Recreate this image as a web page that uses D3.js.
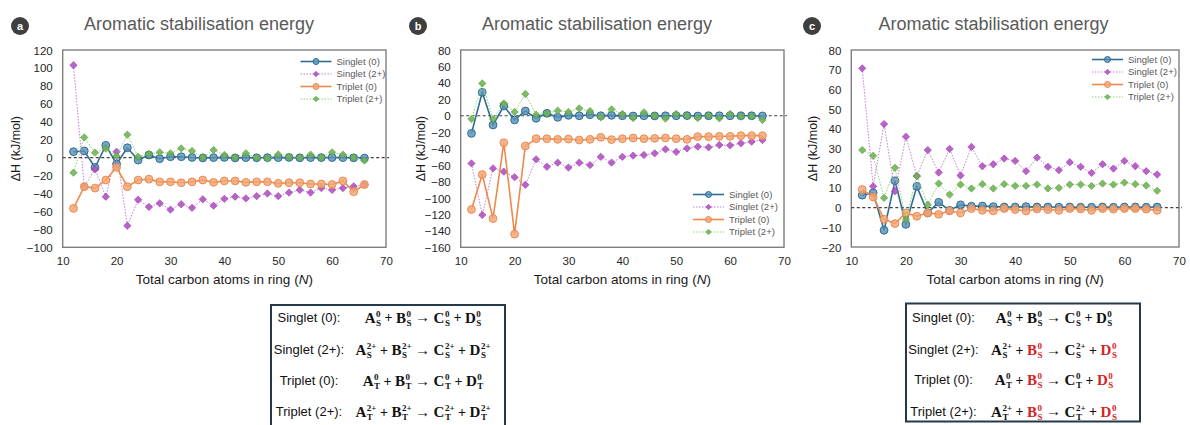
<!DOCTYPE html>
<html><head><meta charset="utf-8">
<script src="https://cdn.jsdelivr.net/npm/d3@7/dist/d3.min.js"></script>
<style>body{margin:0;background:#fff}svg{display:block}</style>
</head><body><svg id="c" width="1190" height="425"></svg>
<script>
const N = [12,14,16,18,20,22,24,26,28,30,32,34,36,38,40,42,44,46,48,50,52,54,56,58,60,62,64,66];
const xTicks = [10,20,30,40,50,60,70];
const seriesNames = ["Singlet (0)","Singlet (2+)","Triplet (0)","Triplet (2+)"];

const aS0 = [6.6,7.4,-11,13.7,-7,11,-2.7,2.9,-1.2,1,1,0.2,-0.3,0,0.2,-0.3,0,-0.2,0,0,0.2,-0.2,0,0,0.1,0,-0.2,-0.5];
const aS2 = [103,-32.3,-13,-43.6,6.6,-76,-47,-55,-51,-58,-52,-56,-46.5,-53.6,-46,-43.6,-45.5,-43,-40,-43,-39,-36,-39,-34,-36,-34,-32,-30];
const aT0 = [-56.6,-32.4,-34,-25,-10.8,-32.4,-25,-24,-27,-27,-28,-27,-25,-27.6,-26,-26,-27.6,-27,-27,-28.7,-28,-28,-29.4,-29.4,-30,-26,-38,-30];
const aT2 = [-16.8,22.5,5.5,10,1.8,25.6,1,4,5.9,4.8,10.3,7.4,0.3,8.5,2.9,0.3,4.8,0,-1,3.6,1,0,3.3,0.3,5.9,3.3,0.3,-3.4];

const bS0 = [-21.4,28.5,-11.2,11.9,-5.1,5.8,-3.1,3,-1.9,0.5,0,1.3,0,0.5,0,-0.3,0,-0.2,0,0,0.2,-0.3,0,0,0,0,0,-0.2];
const bS2 = [-58,-120.7,-64,-68,-74.7,-84,-53,-62,-57,-63,-57,-60,-50,-57,-50,-48.5,-47.7,-45.7,-40.8,-44,-39.6,-37.6,-38.4,-35.6,-36,-33.5,-31.5,-29.5];
const bT0 = [-114,-71.5,-125,-32.8,-144,-36.8,-27.9,-27.9,-28.7,-28.3,-29.5,-28.7,-26.2,-29,-27.9,-27,-27.9,-27.5,-27,-27.9,-28.7,-25.4,-25.4,-25,-25,-24.2,-24.2,-24.2];
const bT2 = [-4,39.4,-4,15,4.6,26.5,1.3,3,6.2,4.6,9,5.8,-1.9,7.8,2.1,-2.7,4.2,0,-3.5,2.1,0,-2.7,0.5,-3.1,2.1,-1.1,-0.7,-5.1];

const cS0 = [6.3,7.5,-11.5,13.6,-8.5,10.8,-2.7,2.7,-1.4,1.4,0.7,0.8,0.5,0.3,0.3,0.5,0.3,0.3,0.2,0.3,0.2,0.2,0.3,0.2,0.3,0.3,0.2,0.3];
const cS2 = [70.7,10.8,42.4,8.3,36,16,29.2,17.8,29.8,16.3,30.8,21,22,24.9,23.7,18.5,25.4,20.7,19,23,20.7,17.6,22,19.8,23.7,21,18.5,16.8];
const cT0 = [9.2,5.4,-5.9,-8.1,-2.7,-4.4,-2.7,-3.4,-1.7,-2.7,-0.5,-1.4,-1.7,-0.5,-1,-1.7,-0.7,-1,-1.4,-0.5,-0.7,-1.4,-0.5,-0.8,-0.5,-0.5,-0.8,-1.4];
const cT2 = [29.2,26.3,4.9,20.2,-6.1,16,1.5,12.2,6.6,11.7,9.7,11.9,9.7,11.9,11,11,11.7,9.7,10,11.7,11.7,11,12.2,11.7,12.7,11.9,11.2,8.5];

const aYTicks = [-100,-80,-60,-40,-20,0,20,40,60,80,100,120];
const bYTicks = [-160,-140,-120,-100,-80,-60,-40,-20,0,20,40,60,80];
const cYTicks = [-20,-10,0,10,20,30,40,50,60,70,80];

const styles = [
  {line:"#2f6c8f", w:1.6, dash:null, shape:"circle", fill:"#5a93b9", stroke:"#2f6c8f"},
  {line:"#c37dd1", w:1, dash:"1.5,1.5", shape:"diamond", fill:"#b04fc2", stroke:"#9b3cad"},
  {line:"#ec8a4e", w:1.6, dash:null, shape:"circle", fill:"#f3a675", stroke:"#ec8a4e"},
  {line:"#8fd07a", w:1, dash:"1.5,1.5", shape:"diamond", fill:"#6eb352", stroke:"#5a9c40"}
];

const svg = d3.select("#c");
svg.append("rect").attr("width",1190).attr("height",425).attr("fill","#fff");

const panels = [
  {id:"a", data:[aS0,aS2,aT0,aT2], yTicks:aYTicks, x0:62.7, x1:386, y0:50, y1:247.3, title:199, badge:20, ylab:16, legend:{x:300.5, y:61.5}},
  {id:"b", data:[bS0,bS2,bT0,bT2], yTicks:bYTicks, x0:460.7, x1:784, y0:50, y1:247.3, title:597, badge:418, ylab:421, legend:{x:693, y:194.5}},
  {id:"c", data:[cS0,cS2,cT0,cT2], yTicks:cYTicks, x0:851.3, x1:1179, y0:50, y1:247, title:993.5, badge:812, ylab:813, legend:{x:1092, y:59.5}}
];

function marker(g, shape, x, y, r, s){
  if(shape==="circle"){
    g.append("circle").attr("cx",x).attr("cy",y).attr("r",r)
      .attr("fill",s.fill).attr("fill-opacity",0.82).attr("stroke",s.stroke).attr("stroke-width",1);
  } else {
    const d = r*1.05;
    g.append("path").attr("d",`M${x},${y-d}L${x+d},${y}L${x},${y+d}L${x-d},${y}Z`)
      .attr("fill",s.fill).attr("fill-opacity",0.88).attr("stroke",s.stroke).attr("stroke-width",0.6);
  }
}

panels.forEach(p=>{
  const g = svg.append("g");
  const x = d3.scaleLinear().domain([10,70]).range([p.x0,p.x1]);
  const yd = d3.extent(p.yTicks);
  const y = d3.scaleLinear().domain(yd).range([p.y1,p.y0]);

  g.append("circle").attr("cx",p.badge).attr("cy",26).attr("r",9).attr("fill","#3f3f3f");
  g.append("text").attr("x",p.badge).attr("y",30).attr("text-anchor","middle")
    .attr("font-family","Liberation Sans, Arial, sans-serif").attr("font-size",11).attr("font-weight","bold")
    .attr("fill","#fff").text(p.id);
  g.append("text").attr("x",p.title).attr("y",30).attr("text-anchor","middle")
    .attr("font-family","Liberation Sans, Arial, sans-serif").attr("font-size",18).attr("fill","#595959")
    .text("Aromatic stabilisation energy");

  const yAxis = d3.axisLeft(y).tickValues(p.yTicks).tickSize(0).tickPadding(10).tickFormat(d3.format("d"));
  const ya = g.append("g").attr("transform",`translate(${p.x0},0)`).call(yAxis);
  ya.select(".domain").remove();
  ya.selectAll("text").attr("font-family","Liberation Sans, Arial, sans-serif").attr("font-size",11.5).attr("fill","#262626").attr("dy","0.35em");

  const xAxis = d3.axisBottom(x).tickValues(xTicks).tickSize(0).tickPadding(10).tickFormat(d3.format("d"));
  const xa = g.append("g").attr("transform",`translate(0,${p.y1})`).call(xAxis);
  xa.select(".domain").remove();
  xa.selectAll("text").attr("font-family","Liberation Sans, Arial, sans-serif").attr("font-size",11.5).attr("fill","#262626");

  g.append("rect").attr("x",p.x0).attr("y",p.y0).attr("width",p.x1-p.x0).attr("height",p.y1-p.y0)
    .attr("fill","none").attr("stroke","#7f7f7f").attr("stroke-width",1.4);

  const xt = g.append("text").attr("x",(p.x0+p.x1)/2).attr("y",283.5).attr("text-anchor","middle")
    .attr("font-family","Liberation Sans, Arial, sans-serif").attr("font-size",13.5).attr("fill","#1a1a1a");
  xt.append("tspan").text("Total carbon atoms in ring (");
  xt.append("tspan").attr("font-style","italic").text("N");
  xt.append("tspan").text(")");
  g.append("text").attr("transform",`translate(${p.ylab},${(p.y0+p.y1)/2}) rotate(-90)`).attr("text-anchor","middle")
    .attr("dy","0.35em").attr("font-family","Liberation Sans, Arial, sans-serif").attr("font-size",12.5).attr("fill","#1a1a1a")
    .text("ΔH (kJ/mol)");

  g.append("line").attr("x1",p.x0).attr("x2",p.x1+3).attr("y1",y(0)).attr("y2",y(0))
    .attr("stroke","#404040").attr("stroke-width",1.2).attr("stroke-dasharray","3,2.5");

  const line = d3.line().x((d,i)=>x(N[i])).y(d=>y(d));
  p.data.forEach((vals,si)=>{
    const s = styles[si];
    const sg = g.append("g");
    sg.append("path").attr("d",line(vals)).attr("fill","none").attr("stroke",s.line)
      .attr("stroke-width",s.w).attr("stroke-dasharray",s.dash);
    vals.forEach((v,i)=> marker(sg, s.shape, x(N[i]), y(v), s.shape==="circle"?3.9:3.5, s));
  });

  const L = p.legend;
  seriesNames.forEach((nm,i)=>{
    const s = styles[i];
    const yy = L.y + i*12.5;
    const lg = g.append("g");
    lg.append("line").attr("x1",L.x).attr("x2",L.x+31).attr("y1",yy).attr("y2",yy)
      .attr("stroke",s.line).attr("stroke-width",s.w).attr("stroke-dasharray",s.dash);
    marker(lg, s.shape, L.x+15.5, yy, s.shape==="circle"?3:2.6, s);
    lg.append("text").attr("x",L.x+36).attr("y",yy).attr("dy","0.35em")
      .attr("font-family","Liberation Sans, Arial, sans-serif").attr("font-size",9.5).attr("fill","#595959").text(nm);
  });
});

const rowLabels = ["Singlet (0):","Singlet (2+):","Triplet (0):","Triplet (2+):"];
const eqLeft = [
  [["A","0","S"],["B","0","S"],["C","0","S"],["D","0","S"]],
  [["A","2+","S"],["B","2+","S"],["C","2+","S"],["D","2+","S"]],
  [["A","0","T"],["B","0","T"],["C","0","T"],["D","0","T"]],
  [["A","2+","T"],["B","2+","T"],["C","2+","T"],["D","2+","T"]]
];
const eqRight = [
  [["A","0","S"],["B","0","S"],["C","0","S"],["D","0","S"]],
  [["A","2+","S"],["B","0","S",1],["C","2+","S"],["D","0","S",1]],
  [["A","0","T"],["B","0","S",1],["C","0","T"],["D","0","S",1]],
  [["A","2+","T"],["B","0","S",1],["C","2+","T"],["D","0","S",1]]
];

function drawEq(parent, cx, by, terms){
  const g = parent.append("g");
  let cur = 0;
  const ops = ["+","→","+"];
  const ff = "Liberation Serif, 'DejaVu Serif', serif";
  terms.forEach((t,i)=>{
    const col = t[3] ? "#d42424" : "#111";
    const b = g.append("text").attr("x",cur).attr("y",by).attr("font-family",ff).attr("font-weight","bold")
      .attr("font-size",15).attr("fill",col).text(t[0]);
    cur += b.node().getComputedTextLength() + 0.5;
    const sp = g.append("text").attr("x",cur).attr("y",by-6).attr("font-family",ff).attr("font-weight","bold")
      .attr("font-size",9).attr("fill",col).text(t[1]);
    const sb = g.append("text").attr("x",cur).attr("y",by+3).attr("font-family",ff).attr("font-weight","bold")
      .attr("font-size",9).attr("fill",col).text(t[2]);
    cur += Math.max(sp.node().getComputedTextLength(), sb.node().getComputedTextLength());
    if(i<3){
      const o = g.append("text").attr("x",cur+3.5).attr("y",by-0.5).attr("font-family",ff).attr("font-weight","bold")
        .attr("font-size",i===1?15:14).attr("fill","#111").text(ops[i]);
      cur += 3.5 + o.node().getComputedTextLength() + 3.5;
    }
  });
  g.attr("transform",`translate(${cx-cur/2},0)`);
}

const boxes = [
  {x:271, y:305, w:234, h:125, labelX:309, eqX:423, rows:[321.5,354,385,416], eqs:eqLeft},
  {x:906, y:303.5, w:234, h:118, labelX:943.5, eqX:1054, rows:[321.5,354,384,415.5], eqs:eqRight}
];
boxes.forEach(B=>{
  svg.append("rect").attr("x",B.x).attr("y",B.y).attr("width",B.w).attr("height",B.h)
    .attr("fill","#fff").attr("stroke","#26394a").attr("stroke-width",2);
  B.rows.forEach((ry,i)=>{
    svg.append("text").attr("x",B.labelX).attr("y",ry).attr("text-anchor","middle")
      .attr("font-family","Liberation Sans, Arial, sans-serif").attr("font-size",13).attr("fill","#111").text(rowLabels[i]);
    drawEq(svg, B.eqX, ry+1, B.eqs[i]);
  });
});
</script></body></html>
